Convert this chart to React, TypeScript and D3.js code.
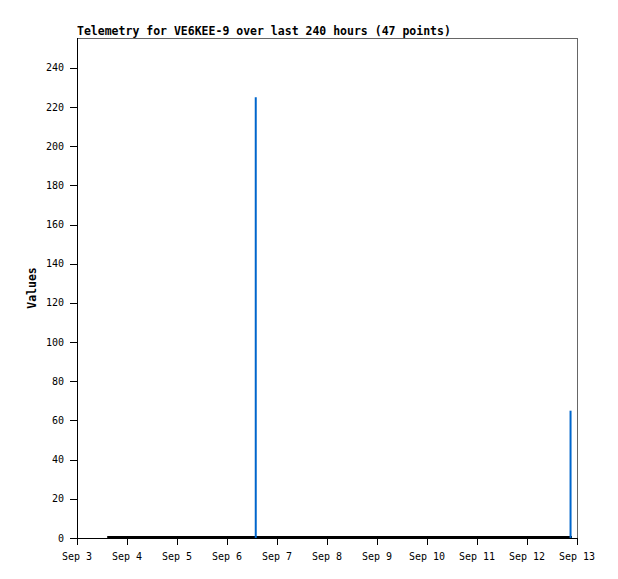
import React from "react";
import * as d3 from "d3";

const title = "Telemetry for VE6KEE-9 over last 240 hours (47 points)";
const yLabel = "Values";
// hours since Sep 3 00:00
const hours = [14.5, 19, 24, 29, 34, 39, 44, 49, 54, 59, 64, 69, 74, 79, 85.8, 91, 96, 101, 106, 111, 116, 121, 126, 131, 136, 141, 146, 151, 156, 161, 166, 171, 176, 181, 186, 191, 196, 201, 206, 211, 216, 221, 226, 231, 234, 236.9, 237.6];
const values = [0, 0, 0, 0, 0, 0, 0, 0, 0, 0, 0, 0, 0, 0, 225, 0, 0, 0, 0, 0, 0, 0, 0, 0, 0, 0, 0, 0, 0, 0, 0, 0, 0, 0, 0, 0, 0, 0, 0, 0, 0, 0, 0, 0, 0, 65, 0];
const yTicks = [0, 20, 40, 60, 80, 100, 120, 140, 160, 180, 200, 220, 240];
const xTickDays = [3, 4, 5, 6, 7, 8, 9, 10, 11, 12, 13];

const L = 77, R = 577, T = 38, B = 538;

export default function App() {
  const x = d3.scaleLinear().domain([0, 240]).range([L, R]);
  const y = d3.scaleLinear().domain([0, 255.3]).range([B, T]);
  const pts = hours.map((h, i) => ({ h, v: values[i] }));
  const zeroPts = pts.filter((p) => p.v === 0);
  const line = d3.line<{ h: number; v: number }>().x((d) => x(d.h)).y((d) => y(d.v) - 1);
  const mono = "'DejaVu Sans Mono', monospace";
  return (
    <div style={{ position: "absolute", left: 0, top: 0 }}>
      <svg width={618} height={579} style={{ display: "block", background: "#fff" }}>
        <rect x={0} y={0} width={618} height={579} fill="#fff" />
        <text x={L} y={35} fontFamily={mono} fontWeight="bold" fontSize={11.5} fill="#000">{title}</text>
        <line x1={L} y1={T + 0.5} x2={R} y2={T + 0.5} stroke="#666" />
        <line x1={R + 0.5} y1={T} x2={R + 0.5} y2={B} stroke="#666" />
        <path d={line(zeroPts) || ""} fill="none" stroke="#000" strokeWidth={2} />
        {pts.filter((p) => p.v !== 0).map((p, i) => (
          <line key={i} x1={x(p.h)} x2={x(p.h)} y1={y(0)} y2={y(p.v)} stroke="#0066cc" strokeWidth={2} />
        ))}
        <line x1={L + 0.5} y1={T} x2={L + 0.5} y2={B + 0.5} stroke="#000" />
        <line x1={L} y1={B + 0.5} x2={R + 1} y2={B + 0.5} stroke="#000" />
        {yTicks.map((t) => (
          <g key={t}>
            <line x1={L - 7} x2={L} y1={Math.round(y(t)) + 0.5} y2={Math.round(y(t)) + 0.5} stroke="#000" />
            <text x={L - 13} y={y(t)} dy="0.35em" textAnchor="end" fontFamily={mono} fontSize={10} fill="#000">{t}</text>
          </g>
        ))}
        {xTickDays.map((d) => (
          <g key={d}>
            <line x1={Math.round(x((d - 3) * 24)) + 0.5} x2={Math.round(x((d - 3) * 24)) + 0.5} y1={B} y2={B + 7} stroke="#000" />
            <text x={x((d - 3) * 24)} y={560} textAnchor="middle" fontFamily={mono} fontSize={10} fill="#000">{`Sep ${d}`}</text>
          </g>
        ))}
        <text transform={`translate(36,${(T + B) / 2}) rotate(-90)`} textAnchor="middle" fontFamily={mono} fontWeight="bold" fontSize={11.5} fill="#000">{yLabel}</text>
      </svg>
    </div>
  );
}
